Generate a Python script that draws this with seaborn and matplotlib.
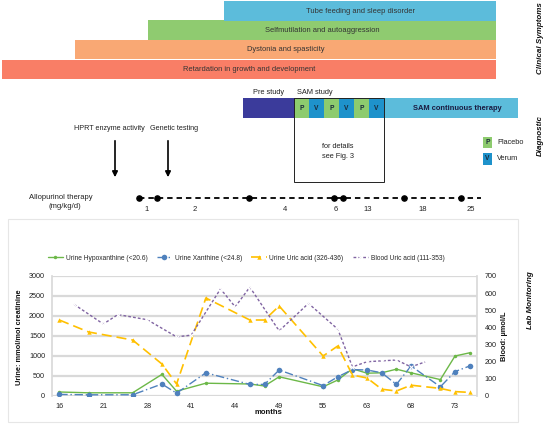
import numpy as np
import pandas as pd
import matplotlib
matplotlib.use('Agg')
import matplotlib.pyplot as plt
import seaborn as sns
from matplotlib.patches import Rectangle

# clinical symptoms (onset on the schematic timeline, all run to the end)
symptoms = ['Retardation in growth and development', 'Dystonia and spasticity',
            'Selfmutilation and autoaggression', 'Tube feeding and sleep disorder']
symptom_onset = [2, 75, 148, 224]
timeline_end = 496
symptom_colors = ['#F97E66', '#F9A874', '#8FCB70', '#5CBCDB']

# study phases
phase_names = ['', 'P', 'V', 'P', 'V', 'P', 'V', 'SAM continuous therapy']
phase_start = [243, 295, 309, 324, 339, 354, 369, 384]
phase_end = [295, 309, 324, 339, 354, 369, 384, 518]
phase_colors = ['#3B3B9B', '#8DCB6E', '#1E92CB', '#8DCB6E', '#1E92CB', '#8DCB6E', '#1E92CB', '#5CBCDB']

# allopurinol dose steps (mg/kg/d)
dose_pos = [139, 157, 249, 334, 343, 404, 461]
dose_labels = ['1', '2', '4', '6', '13', '18', '25']
dose_label_pos = [147, 195, 285, 336, 368, 423, 471]

# lab monitoring
month_labels = ['16', '21', '28', '41', '44', '49', '55', '63', '68', '73']
urine_idx = [0, 2, 5, 7, 8, 10, 13, 14, 15, 18, 19, 20, 21, 22, 23, 24, 26, 27, 28]
hypoxanthine = [100, 80, 80, 540, 120, 320, 300, 250, 480, 230, 400, 680, 570, 580, 670, 580, 410, 1000, 1080]
xanthine = [40, 30, 30, 300, 70, 580, 290, 290, 650, 260, 480, 660, 650, 580, 290, 750, 230, 610, 750]
uric_urine = [1900, 1600, 1400, 800, 300, 2450, 1900, 1900, 2250, 1000, 1250, 525, 450, 170, 125, 270, 190, 110, 90]
blood_idx = [1, 3, 4, 6, 8, 9, 11, 12, 13, 15, 17, 19, 20, 21, 22, 23, 24, 25]
uric_blood = [535, 420, 475, 445, 345, 355, 625, 520, 635, 380, 540, 390, 170, 200, 205, 210, 170, 200]

sns.set_theme(style='white')
plt.rcParams['font.family'] = ['Liberation Sans', 'DejaVu Sans']

W, H = 546, 425
fig = plt.figure(figsize=(W / 100, H / 100), dpi=100)
ax = fig.add_axes([0, 0, 1, 1])
ax.set_xlim(0, W)
ax.set_ylim(H, 0)
ax.axis('off')

# clinical symptoms
rows = [69.5, 49.5, 30, 11]
for name, onset, col, y in zip(symptoms, symptom_onset, symptom_colors, rows):
    ax.barh(y, timeline_end - onset, left=onset, height=19.5, color=col, linewidth=0)
    ax.text((onset + timeline_end) / 2, y, name, ha='center', va='center',
            fontsize=5.4, color='#333333')

# diagnostic
for name, s, e, col in zip(phase_names, phase_start, phase_end, phase_colors):
    ax.barh(108, e - s, left=s, height=20, color=col, linewidth=0)
    if len(name) == 1:
        ax.text((s + e) / 2, 108, name, ha='center', va='center', fontsize=4.8,
                fontweight='bold', color='#1a2a3a')
    elif name:
        ax.text((s + e) / 2 + 6, 108, name, ha='center', va='center', fontsize=5.4,
                fontweight='bold', color='#1a1a40')
ax.text(269, 92, 'Pre study', ha='center', va='center', fontsize=5.3, color='#222')
ax.text(315, 92, 'SAM study', ha='center', va='center', fontsize=5.3, color='#222')
ax.add_patch(Rectangle((294, 98), 90, 84, fill=False, edgecolor='#222', lw=0.7, zorder=3))
ax.text(338, 146, 'for details', ha='center', va='center', fontsize=5.3, color='#222')
ax.text(338, 156, 'see Fig. 3', ha='center', va='center', fontsize=5.3, color='#222')

ax.add_patch(Rectangle((483, 137), 9, 11, color='#8DCB6E', lw=0))
ax.add_patch(Rectangle((483, 153), 9, 12, color='#1E92CB', lw=0))
ax.text(487.5, 142.5, 'P', ha='center', va='center', fontsize=4.8, fontweight='bold', color='#1a2a3a')
ax.text(487.5, 159, 'V', ha='center', va='center', fontsize=4.8, fontweight='bold', color='#1a2a3a')
ax.text(497, 142.5, 'Placebo', ha='left', va='center', fontsize=5.3, color='#222')
ax.text(497, 159, 'Verum', ha='left', va='center', fontsize=5.3, color='#222')

ax.text(109, 128, 'HPRT enzyme activity', ha='center', va='center', fontsize=5.2, color='#222')
ax.text(174, 128, 'Genetic testing', ha='center', va='center', fontsize=5.2, color='#222')
for xa in [115, 168]:
    ax.annotate('', xy=(xa, 180), xytext=(xa, 138),
                arrowprops=dict(arrowstyle='-|>', color='black', lw=1.2, mutation_scale=8))

# allopurinol
ax.text(61, 197, 'Allopurinol therapy', ha='center', va='center', fontsize=5.5, color='#222')
ax.text(65, 206, '(mg/kg/d)', ha='center', va='center', fontsize=5.5, color='#222')
ax.plot([dose_pos[0], 481], [198, 198], color='black', lw=1.3, linestyle=(0, (3, 2.2)))
ax.scatter(dose_pos, [198] * len(dose_pos), s=14, color='black', zorder=3)
for xp, lab in zip(dose_label_pos, dose_labels):
    ax.text(xp, 209, lab, ha='center', va='center', fontsize=5.5, color='#222')

# section labels
for txt, xs, ys in [('Clinical Symptoms', 540, 38), ('Diagnostic', 540, 135), ('Lab Monitoring', 531, 300)]:
    ax.text(xs, ys, txt, rotation=90, ha='center', va='center', fontsize=5.8,
            fontweight='bold', fontstyle='italic', color='#111')

# lab chart frame
ax.add_patch(Rectangle((8, 219), 510, 203, fill=False, edgecolor='#E6E6E6', lw=0.8))

lab = fig.add_axes([52 / W, (H - 396) / H, 425 / W, 120 / H])
lab.patch.set_alpha(0)
sns.lineplot(x=urine_idx, y=hypoxanthine, ax=lab, color='#6CB848', marker='o', markersize=2.5,
             markeredgewidth=0, lw=1.0, label='Urine Hypoxanthine (<20.6)')
sns.lineplot(x=urine_idx, y=xanthine, ax=lab, color='#4F81BD', marker='o', markersize=4,
             markeredgewidth=0, lw=1.0, linestyle=(0, (6, 2, 1, 2)), label='Urine Xanthine (<24.8)')
sns.lineplot(x=urine_idx, y=uric_urine, ax=lab, color='#FFC000', marker='^', markersize=3.2,
             markeredgewidth=0, lw=1.2, linestyle=(0, (6, 3)), label='Urine Uric acid (326-436)')
lab2 = lab.twinx()
sns.lineplot(x=blood_idx, y=uric_blood, ax=lab2, color='#8064A2', marker='x', markersize=2.5,
             markeredgewidth=0.8, lw=1.0, linestyle=(0, (2, 1.5)), label='Blood Uric acid (111-353)')

lab.set_xlim(-0.5, 28.5)
lab.set_ylim(0, 3000)
lab.set_yticks(range(0, 3001, 500))
lab.set_xticks(range(0, 28, 3))
lab.set_xticklabels(month_labels)
lab2.set_ylim(0, 700)
lab2.set_yticks(range(0, 701, 100))
lab.yaxis.grid(True, color='#D9D9D9', lw=1.6)
lab.set_axisbelow(True)
for a in (lab, lab2):
    a.tick_params(length=0, labelsize=5.2, colors='#222')
    for sp in a.spines.values():
        sp.set_visible(False)
lab.tick_params(axis='y', pad=5)
lab.tick_params(axis='x', pad=5)
lab2.tick_params(axis='y', pad=5.5)
lab2.spines['right'].set_visible(True)
lab2.spines['right'].set_color('#D9D9D9')
lab2.spines['left'].set_visible(True)
lab2.spines['left'].set_color('#D9D9D9')

h1, l1 = lab.get_legend_handles_labels()
h2, l2 = lab2.get_legend_handles_labels()
lab.get_legend().remove()
lab2.get_legend().remove()
fig.legend(h1 + h2, l1 + l2, loc='center', bbox_to_anchor=(246 / W, 1 - 258 / H), ncol=4,
           frameon=False, fontsize=4.8, handlelength=2.3, columnspacing=1.4, handletextpad=0.4)

ax.text(268, 412, 'months', ha='center', va='center', fontsize=5.5, fontweight='bold', color='#111')
ax.text(20, 337, 'Urine: mmol/mol creatinine', rotation=90, ha='center', va='center',
        fontsize=5.3, fontweight='bold', color='#111')
ax.text(504, 336, 'Blood: µmol/L', rotation=90, ha='center', va='center',
        fontsize=5.3, fontweight='bold', color='#111')

fig.savefig('out.png', dpi=100)
